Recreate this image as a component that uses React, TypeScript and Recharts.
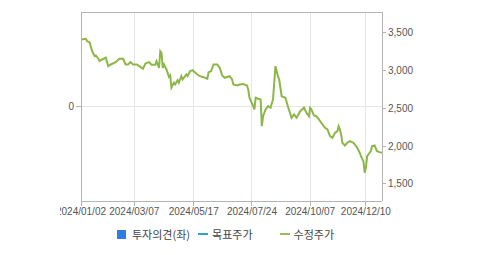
import React from "react";
import { LineChart, Line, XAxis, YAxis, CartesianGrid, ReferenceLine } from "recharts";

const dayIndex = [0,4,5,7,9,11,12,14,15,17,20,22,24,28,31,34,36,38,40,42,45,47,50,52,55,57,60,61,63,64,65,66,67,69,71,72,73,75,76,78,79,81,82,85,86,88,90,93,96,99,102,103,105,107,110,112,114,116,120,122,123,126,128,131,134,135,136,139,140,141,143,145,146,147,149,151,153,155,157,159,160,162,165,167,170,172,174,177,180,182,184,185,186,188,190,192,194,197,199,201,203,205,207,208,209,210,211,213,215,217,220,223,225,226,228,229,230,231,232,234,235,237,239,241,243];
const prices = [3411,3421,3389,3372,3256,3190,3199,3156,3124,3146,3169,3058,3080,3111,3156,3156,3080,3080,3111,3080,3080,3058,3023,3093,3111,3076,3076,3124,3036,3256,3235,3036,3080,3014,2917,2935,2772,2838,2815,2872,2838,2925,2881,2948,2925,2991,3005,2961,2925,2912,2891,2978,2991,3080,3080,3036,2934,2904,2925,2881,2815,2802,2815,2822,2802,2749,2639,2528,2484,2639,2626,2617,2263,2395,2484,2528,2507,2617,3058,2925,2881,2660,2639,2528,2374,2418,2374,2462,2507,2440,2395,2507,2484,2405,2395,2352,2308,2242,2219,2130,2109,2175,2197,2263,2219,2153,2043,2007,2043,2064,2043,1977,1911,1866,1799,1646,1712,1866,1888,1932,1998,2007,1932,1919,1911];

const xTickIndex = [0, 43, 91, 138, 185, 230];
const xTickLabels = ["2024/01/02", "2024/03/07", "2024/05/17", "2024/07/24", "2024/10/07", "2024/12/10"];
const priceTicks = [1500, 2000, 2500, 3000, 3500];
const priceDomain = [1272, 3775];
const opinionTicks = [0];
const legendLabels = ["투자의견(좌)", "목표주가", "수정주가"];

const data = dayIndex.map((t, i) => ({ t, price: prices[i] }));

const AXIS = "#b4b4b4";
const GRID = "#e6e6e6";
const TXT = "#555";
const tickFont = { fontFamily: "'Liberation Sans', Arial, sans-serif", fontSize: 10, fill: TXT };
const axisLine = { stroke: AXIS, shapeRendering: "crispEdges" };
const tickLine = { stroke: AXIS, shapeRendering: "crispEdges" };

export default function App() {
  const labelFor = (v: number) => {
    const i = xTickIndex.indexOf(v);
    return i >= 0 ? xTickLabels[i] : "";
  };
  return (
    <div>
      <div style={{ position: "absolute", left: 60, top: 0, width: 419, height: 255, overflow: "hidden" }}>
        <div style={{ marginLeft: -1, width: 420, height: 255 }}>
          <LineChart width={420} height={255} data={data} margin={{ top: 12, right: 37, bottom: 24, left: 0 }}>
            <CartesianGrid stroke={GRID} shapeRendering="crispEdges" />
            <ReferenceLine yAxisId="right" y={priceDomain[1]} stroke={AXIS} shapeRendering="crispEdges" />
            <XAxis
              dataKey="t"
              type="number"
              domain={[0, 243]}
              ticks={xTickIndex}
              tickFormatter={labelFor}
              interval={0}
              height={30}
              axisLine={axisLine}
              tickLine={tickLine}
              tickSize={5}
              tick={tickFont}
              allowDataOverflow
            />
            <YAxis
              orientation="left"
              type="number"
              domain={[-1, 1]}
              ticks={opinionTicks}
              allowDataOverflow
              width={22}
              axisLine={axisLine}
              tickLine={tickLine}
              tickSize={5}
              tick={tickFont}
            />
            <YAxis
              yAxisId="right"
              orientation="right"
              type="number"
              domain={priceDomain}
              ticks={priceTicks}
              tickFormatter={(v: number) => v.toLocaleString("en-US")}
              width={60}
              axisLine={axisLine}
              tickLine={tickLine}
              tickSize={4}
              tick={tickFont}
              allowDataOverflow
            />
            <Line
              yAxisId="right"
              dataKey="price"
              type="linear"
              stroke="#8cb748"
              strokeWidth={2}
              dot={false}
              isAnimationActive={false}
            />
          </LineChart>
        </div>
      </div>
      <div
        style={{
          position: "absolute",
          left: 117,
          top: 226,
          height: 16,
          display: "flex",
          alignItems: "center",
          fontFamily: "'Noto Sans CJK KR', sans-serif",
          fontSize: 11,
          color: "#444",
          whiteSpace: "nowrap",
        }}
      >
        <span style={{ display: "inline-block", width: 9, height: 9, background: "#2e7de1", marginRight: 6 }} />
        <span>{legendLabels[0]}</span>
        <span style={{ display: "inline-block", width: 10, height: 2, background: "#2aa7c6", marginLeft: 8, marginRight: 4 }} />
        <span>{legendLabels[1]}</span>
        <span style={{ display: "inline-block", width: 10, height: 2, background: "#9bbb59", marginLeft: 27, marginRight: 4 }} />
        <span>{legendLabels[2]}</span>
      </div>
    </div>
  );
}
